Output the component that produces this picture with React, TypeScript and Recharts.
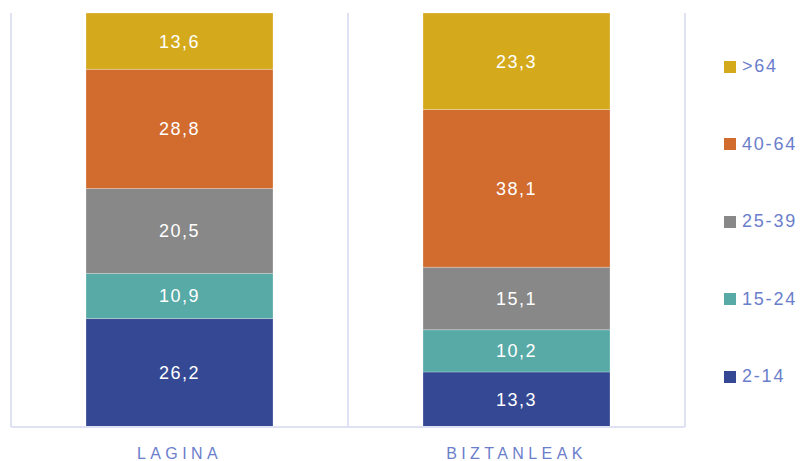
import { BarChart, Bar, XAxis, YAxis, CartesianGrid, LabelList } from "recharts";

const categories = ["LAGINA", "BIZTANLEAK"];
const ageGroups = ["2-14", "15-24", "25-39", "40-64", ">64"];
const values: Record<string, number[]> = {
  "2-14": [26.2, 13.3],
  "15-24": [10.9, 10.2],
  "25-39": [20.5, 15.1],
  "40-64": [28.8, 38.1],
  ">64": [13.6, 23.3],
};
const colors: Record<string, string> = {
  "2-14": "#354893",
  "15-24": "#57aaa6",
  "25-39": "#888888",
  "40-64": "#d16b2e",
  ">64": "#d4aa1c",
};

const data = categories.map((name, i) => {
  const row: Record<string, string | number> = { name };
  ageGroups.forEach((g) => (row[g] = values[g][i]));
  return row;
});

const FONT = '"Liberation Sans", Arial, sans-serif';
const TEXT = "#6b7ecb";
const GRID = "#dfe2f3";

const AxisTick = ({ x, y, payload }: any) => (
  <text x={x} y={y + 24} textAnchor="middle" fill={TEXT} fontSize={16} letterSpacing={4.4} fontFamily={FONT}>
    {payload.value}
  </text>
);

// legend drawn outside the chart so it doesn't eat into the plot area
const LegendBox = () => (
  <div style={{ position: "absolute", left: 724, top: 28, width: 77, fontFamily: FONT }}>
    {[...ageGroups].reverse().map((g) => (
      <div key={g} style={{ height: 77.5, display: "flex", alignItems: "center" }}>
        <span style={{ width: 12, height: 12, background: colors[g], display: "inline-block", marginRight: 6 }} />
        <span style={{ color: TEXT, fontSize: 18, letterSpacing: 1.8 }}>{g}</span>
      </div>
    ))}
  </div>
);

export default function App() {
  return (
    <div style={{ width: 801, height: 461, position: "relative" }}>
      <style>{`body{margin:0}`}</style>
      <BarChart width={801} height={461} data={data} margin={{ top: 13, right: 116, left: 11, bottom: 0 }}>
        <CartesianGrid
          horizontal={false}
          stroke={GRID}
          strokeWidth={2}
          verticalCoordinatesGenerator={({ offset }: any) => [
            offset.left,
            offset.left + offset.width / 2,
            offset.left + offset.width,
          ]}
        />
        <XAxis
          dataKey="name"
          height={34}
          tickLine={false}
          axisLine={{ stroke: GRID, strokeWidth: 2 }}
          tick={<AxisTick />}
          interval={0}
        />
        <YAxis hide domain={[0, 100]} />
        {ageGroups.map((g) => (
          <Bar key={g} dataKey={g} stackId="a" fill={colors[g]} barSize={187} isAnimationActive={false}
            stroke="#ffffff" strokeOpacity={0.25} strokeWidth={1}>
            <LabelList
              dataKey={g}
              position="center"
              fill="#ffffff"
              fontSize={18}
              letterSpacing={1.5}
              fontFamily={FONT}
              formatter={(v: any) => String(v).replace(".", ",")}
            />
          </Bar>
        ))}
      </BarChart>
      <LegendBox />
    </div>
  );
}
